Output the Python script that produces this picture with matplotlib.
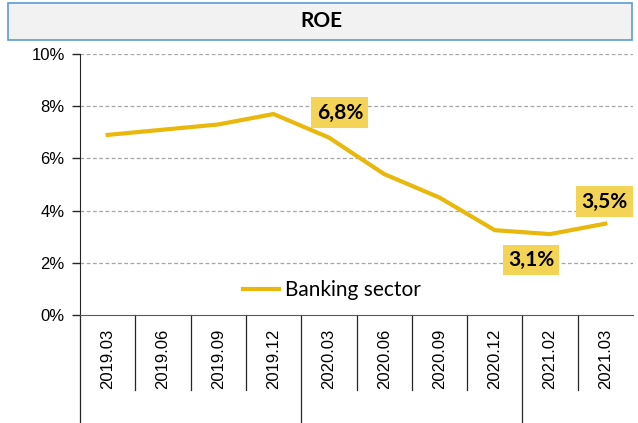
import matplotlib.pyplot as plt
from matplotlib.patches import Rectangle
from matplotlib.lines import Line2D

periods = ["2019.03", "2019.06", "2019.09", "2019.12", "2020.03",
           "2020.06", "2020.09", "2020.12", "2021.02", "2021.03"]
roe = [6.9, 7.1, 7.3, 7.7, 6.8, 5.4, 4.5, 3.25, 3.1, 3.5]
series_name = "Banking sector"
labelled = {4: "6,8%", 8: "3,1%", 9: "3,5%"}
label_offsets = {4: (11, 25), 8: (-19, -26), 9: (-1, 22)}
group_edges = [0, 4, 8]

W, H = 638, 423
line_col = "#E8B80C"
box_col = "#F4D456"

fig = plt.figure(figsize=(W / 100, H / 100), dpi=100)

# title box
fig.patches.append(Rectangle((8 / W, 1 - 40 / H), 624 / W, 37 / H, transform=fig.transFigure,
                             facecolor="#F2F2F2", edgecolor="#5B9BD5", lw=1.2))
fig.text(321 / W, 1 - 21 / H, "ROE", ha="center", va="center", fontsize=15,
         fontweight="bold", family="Lato")

x0, x1 = 80, 633
y_top, y_zero = 54, 315
ax = fig.add_axes([x0 / W, 1 - y_zero / H, (x1 - x0) / W, (y_zero - y_top) / H])

xs = [i + 0.5 for i in range(len(periods))]
ax.plot(xs, roe, color=line_col, lw=3, solid_joinstyle="round", label=series_name)
ax.set_xlim(0, len(periods))
ax.set_ylim(0, 10)
ax.set_yticks(range(0, 11, 2))
ax.set_yticklabels([f"{v}%" for v in range(0, 11, 2)], family="Liberation Sans", fontsize=12)
ax.tick_params(axis="y", direction="out", length=6, width=1, color="#262626", pad=5)
ax.set_xticks([])
for v in range(2, 11, 2):
    ax.axhline(v, color="#A6A6A6", lw=0.9, ls=(0, (3, 2)), zorder=0)
for s in ["top", "right"]:
    ax.spines[s].set_visible(False)
ax.spines["left"].set_color("#262626")
ax.spines["bottom"].set_color("#595959")

# category axis: dividers and rotated labels
h = y_zero - y_top
for i in range(len(periods)):
    if i in group_edges:
        ax.plot([i, i], [0, -(H - y_zero) / h], color="#262626", lw=0.9,
                transform=ax.get_xaxis_transform(), clip_on=False)
    else:
        ax.plot([i, i], [0, -(390 - y_zero) / h], color="#262626", lw=0.9,
                transform=ax.get_xaxis_transform(), clip_on=False)
    ax.text(xs[i], -(359 - y_zero) / h, periods[i], rotation=90, ha="center", va="center",
            fontsize=12, family="Liberation Sans", transform=ax.get_xaxis_transform())

for i, txt in labelled.items():
    ax.annotate(txt, (xs[i], roe[i]), xytext=label_offsets[i], textcoords="offset pixels",
                ha="center", va="center", fontsize=15, fontweight="bold", family="Lato",
                bbox=dict(boxstyle="square,pad=0.25", facecolor=box_col, edgecolor="none"))

ax.legend(handles=[Line2D([], [], color=line_col, lw=3)], labels=[series_name],
          loc="center", bbox_to_anchor=((332 - x0) / (x1 - x0), (y_zero - 290) / h),
          frameon=False, prop={"family": "Lato", "size": 15}, handlelength=1.75,
          handletextpad=0.3)

fig.savefig("out.png", dpi=100)
